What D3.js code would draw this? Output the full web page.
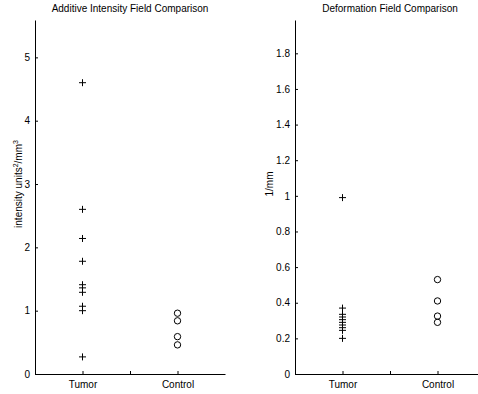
<!DOCTYPE html>
<html>
<head>
<meta charset="utf-8">
<script src="https://cdn.jsdelivr.net/npm/d3@7"></script>
<style>
  body { margin: 0; background: #fff; }
  text { font-family: "Liberation Sans", Arial, sans-serif; font-size: 10px; fill: #000; }
</style>
</head>
<body>
<div id="chart"></div>
<script>
let w = 478, h = 394;

// data
const groups = ["Tumor", "", "Control"];
const groupPos = [1, 1.5, 2];
const intensityTumor = [4.6, 2.6, 2.14, 1.78, 1.41, 1.36, 1.29, 1.07, 1.0, 0.27];
const intensityControl = [0.96, 0.84, 0.59, 0.46];
const deformTumor = [0.99, 0.37, 0.335, 0.32, 0.305, 0.29, 0.275, 0.26, 0.245, 0.2];
const deformControl = [0.53, 0.41, 0.325, 0.29];
const intensityTicks = [0, 1, 2, 3, 4, 5];
const deformTicks = [0, 0.2, 0.4, 0.6, 0.8, 1, 1.2, 1.4, 1.6, 1.8];

let svg = d3.select("#chart")
    .append("svg")
    .attr("width", w)
    .attr("height", h);

const drawPanel = (opt) => {
    let x = d3.scaleLinear().domain([0.5, 2.5]).range([opt.left, opt.left + 190]);
    let y = d3.scaleLinear().domain([0, opt.ymax]).range([374, 20]);
    let g = svg.append("g");

    let yAxis = d3.axisLeft(y).tickValues(opt.ticks).tickSizeInner(-3).tickSizeOuter(0)
        .tickPadding(5).tickFormat(d3.format("~g"));
    g.append("g").attr("transform", "translate(" + opt.left + ",0)").call(yAxis);

    let xAxis = d3.axisBottom(x).tickValues(groupPos).tickSizeInner(-3).tickSizeOuter(0)
        .tickPadding(7).tickFormat((d, i) => groups[i]);
    g.append("g").attr("transform", "translate(0,374)").call(xAxis);

    g.selectAll(".domain").attr("stroke", "#000");
    g.selectAll(".tick line").attr("stroke", "#000");
    g.selectAll(".tick text").style("font-size", "10px");

    g.append("text")
        .attr("x", (x.range()[0] + x.range()[1]) / 2)
        .attr("y", 12)
        .attr("text-anchor", "middle")
        .text(opt.title);

    let lab = g.append("text")
        .attr("transform", "translate(" + opt.labelX + "," + opt.labelY + ") rotate(-90)")
        .attr("text-anchor", "middle");
    opt.label(lab);

    // tumor: plus markers
    g.append("g").selectAll("path")
        .data(opt.tumor)
        .enter().append("path")
        .attr("d", d => "M" + (x(1) - 3.5) + "," + y(d) + "h7M" + x(1) + "," + (y(d) - 3.5) + "v7")
        .attr("stroke", "#000")
        .attr("fill", "none");

    // control: open circles
    g.append("g").selectAll("circle")
        .data(opt.control)
        .enter().append("circle")
        .attr("cx", x(2))
        .attr("cy", d => y(d))
        .attr("r", 3.2)
        .attr("stroke", "#000")
        .attr("fill", "none");
};

drawPanel({
    left: 35, ymax: 5.59, ticks: intensityTicks,
    tumor: intensityTumor, control: intensityControl,
    title: "Additive Intensity Field Comparison",
    labelX: 22, labelY: 184,
    label: t => {
        t.append("tspan").text("intensity units");
        t.append("tspan").attr("dy", -4).style("font-size", "7px").text("2");
        t.append("tspan").attr("dy", 4).text("/mm");
        t.append("tspan").attr("dy", -4).style("font-size", "7px").text("3");
    }
});

drawPanel({
    left: 295, ymax: 1.987, ticks: deformTicks,
    tumor: deformTumor, control: deformControl,
    title: "Deformation Field Comparison",
    labelX: 273, labelY: 184,
    label: t => t.text("1/mm")
});
</script>
</body>
</html>
